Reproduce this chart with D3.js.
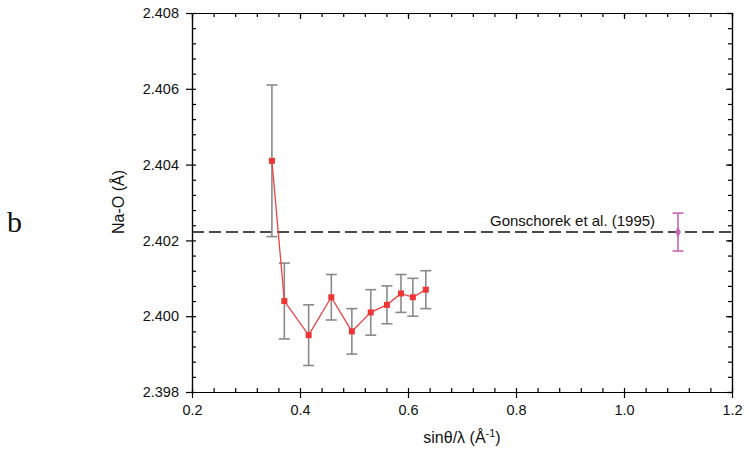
<!DOCTYPE html>
<html>
<head>
<meta charset="utf-8">
<script src="https://cdn.jsdelivr.net/npm/d3@7"></script>
<style>
  body { margin: 0; background: #fff; }
  text { font-family: "Liberation Sans", Arial, sans-serif; }
</style>
</head>
<body>
<div id="canvas"></div>
<script>
"use strict"

let svgWidth = 749;
let svgHeight = 463;

// plot box
let plotLeft = 192, plotRight = 732, plotTop = 13, plotBottom = 392;

/* Data */
let sinThetaLambda = [0.348, 0.371, 0.416, 0.458, 0.496, 0.531, 0.561, 0.587, 0.609, 0.633];
let naO = [2.4041, 2.4004, 2.3995, 2.4005, 2.3996, 2.4001, 2.4003, 2.4006, 2.4005, 2.4007];
let naOErr = [0.0020, 0.0010, 0.0008, 0.0006, 0.0006, 0.0006, 0.0005, 0.0005, 0.0005, 0.0005];

let refX = 1.1;           // Gonschorek et al. (1995)
let refY = 2.40222;
let refErr = 0.0005;

let xTicks = [0.2, 0.4, 0.6, 0.8, 1.0, 1.2];
let yTicks = [2.398, 2.400, 2.402, 2.404, 2.406, 2.408];

let dataset = sinThetaLambda.map(function (x, i) {
    return {x: x, y: naO[i], e: naOErr[i]};
});

let svg = d3.select("#canvas")
    .append("svg")
    .attr("width", svgWidth)
    .attr("height", svgHeight);

/* Scales */
let xScale = d3.scaleLinear()
    .domain([0.2, 1.2])
    .range([plotLeft, plotRight]);

let yScale = d3.scaleLinear()
    .domain([2.398, 2.408])
    .range([plotBottom, plotTop]);

let xMinor = d3.range(0, 26).map(function (i) { return 0.2 + i * 0.04; });
let yMinor = d3.range(0, 26).map(function (i) { return 2.398 + i * 0.0004; });

/* Axes: left/bottom majors point out, minors point in; top/right all in */
function styleAxis(g) {
    g.select(".domain").attr("stroke", "#000").attr("stroke-width", 1.2);
    g.selectAll(".tick line").attr("stroke", "#000").attr("stroke-width", 1.2);
    g.selectAll(".tick text")
        .attr("fill", "#111")
        .style("font-size", "14.5px");
}

svg.append("g")
    .attr("transform", "translate(0," + plotBottom + ")")
    .call(d3.axisBottom(xScale).tickValues(xMinor).tickFormat("").tickSize(-4).tickSizeOuter(0))
    .call(styleAxis);

svg.append("g")
    .attr("transform", "translate(0," + plotBottom + ")")
    .call(d3.axisBottom(xScale).tickValues(xTicks).tickFormat(d3.format(".1f")).tickSize(6).tickSizeOuter(0).tickPadding(7))
    .call(styleAxis);

svg.append("g")
    .attr("transform", "translate(" + plotLeft + ",0)")
    .call(d3.axisLeft(yScale).tickValues(yMinor).tickFormat("").tickSize(-4).tickSizeOuter(0))
    .call(styleAxis);

svg.append("g")
    .attr("transform", "translate(" + plotLeft + ",0)")
    .call(d3.axisLeft(yScale).tickValues(yTicks).tickFormat(d3.format(".3f")).tickSize(6).tickSizeOuter(0).tickPadding(7))
    .call(styleAxis);

svg.append("g")
    .attr("transform", "translate(0," + plotTop + ")")
    .call(d3.axisTop(xScale).tickValues(xMinor).tickFormat("").tickSize(-4).tickSizeOuter(0))
    .call(styleAxis);

svg.append("g")
    .attr("transform", "translate(0," + plotTop + ")")
    .call(d3.axisTop(xScale).tickValues(xTicks).tickFormat("").tickSize(-6).tickSizeOuter(0))
    .call(styleAxis);

svg.append("g")
    .attr("transform", "translate(" + plotRight + ",0)")
    .call(d3.axisRight(yScale).tickValues(yMinor).tickFormat("").tickSize(-4).tickSizeOuter(0))
    .call(styleAxis);

svg.append("g")
    .attr("transform", "translate(" + plotRight + ",0)")
    .call(d3.axisRight(yScale).tickValues(yTicks).tickFormat("").tickSize(-6).tickSizeOuter(0))
    .call(styleAxis);

/* Reference dashed line */
svg.append("line")
    .attr("x1", plotLeft)
    .attr("x2", plotRight)
    .attr("y1", yScale(refY))
    .attr("y2", yScale(refY))
    .attr("stroke", "#111")
    .attr("stroke-width", 1.5)
    .attr("stroke-dasharray", "12,5");

svg.append("text")
    .attr("x", 490)
    .attr("y", yScale(refY) - 6)
    .style("font-size", "15px")
    .attr("fill", "#111")
    .text("Gonschorek et al. (1995)");

/* Error bars */
let capW = 5.5;
let bars = svg.selectAll("g.err")
    .data(dataset)
    .join("g")
    .attr("class", "err")
    .attr("stroke", "#8a8a8a")
    .attr("stroke-width", 1.6);

bars.append("line")
    .attr("x1", function (d) { return xScale(d.x); })
    .attr("x2", function (d) { return xScale(d.x); })
    .attr("y1", function (d) { return yScale(d.y - d.e); })
    .attr("y2", function (d) { return yScale(d.y + d.e); });

bars.append("line")
    .attr("x1", function (d) { return xScale(d.x) - capW; })
    .attr("x2", function (d) { return xScale(d.x) + capW; })
    .attr("y1", function (d) { return yScale(d.y + d.e); })
    .attr("y2", function (d) { return yScale(d.y + d.e); });

bars.append("line")
    .attr("x1", function (d) { return xScale(d.x) - capW; })
    .attr("x2", function (d) { return xScale(d.x) + capW; })
    .attr("y1", function (d) { return yScale(d.y - d.e); })
    .attr("y2", function (d) { return yScale(d.y - d.e); });

/* Red line + squares */
let line = d3.line()
    .x(function (d) { return xScale(d.x); })
    .y(function (d) { return yScale(d.y); });

svg.append("path")
    .datum(dataset)
    .attr("d", line)
    .attr("fill", "none")
    .attr("stroke", "#f04040")
    .attr("stroke-width", 1.3);

let sq = 6;
svg.selectAll("rect.pt")
    .data(dataset)
    .join("rect")
    .attr("class", "pt")
    .attr("x", function (d) { return xScale(d.x) - sq / 2; })
    .attr("y", function (d) { return yScale(d.y) - sq / 2; })
    .attr("width", sq)
    .attr("height", sq)
    .attr("fill", "#ee3535");

/* Gonschorek point */
let pink = "#c864b8";
let rg = svg.append("g").attr("stroke", pink).attr("stroke-width", 1.6);
rg.append("line")
    .attr("x1", xScale(refX)).attr("x2", xScale(refX))
    .attr("y1", yScale(refY - refErr)).attr("y2", yScale(refY + refErr));
rg.append("line")
    .attr("x1", xScale(refX) - capW).attr("x2", xScale(refX) + capW)
    .attr("y1", yScale(refY + refErr)).attr("y2", yScale(refY + refErr));
rg.append("line")
    .attr("x1", xScale(refX) - capW).attr("x2", xScale(refX) + capW)
    .attr("y1", yScale(refY - refErr)).attr("y2", yScale(refY - refErr));
svg.append("path")
    .attr("d", d3.symbol(d3.symbolDiamond, 30)())
    .attr("transform", "translate(" + xScale(refX) + "," + yScale(refY) + ")")
    .attr("fill", pink);

/* Axis titles */
let xTitle = svg.append("text")
    .attr("x", (plotLeft + plotRight) / 2)
    .attr("y", 443)
    .attr("text-anchor", "middle")
    .style("font-size", "16px")
    .attr("fill", "#111");
xTitle.append("tspan").text("sinθ/λ (Å");
xTitle.append("tspan").attr("dy", -6).style("font-size", "11px").text("-1");
xTitle.append("tspan").attr("dy", 6).text(")");

svg.append("text")
    .attr("transform", "translate(124," + 202 + ") rotate(-90)")
    .attr("text-anchor", "middle")
    .style("font-size", "16px")
    .attr("fill", "#111")
    .text("Na-O (Å)");

/* Panel letter */
svg.append("text")
    .attr("x", 7)
    .attr("y", 232)
    .style("font-family", "'Liberation Serif', 'Times New Roman', serif")
    .style("font-size", "30px")
    .attr("fill", "#111")
    .text("b");
</script>
</body>
</html>
